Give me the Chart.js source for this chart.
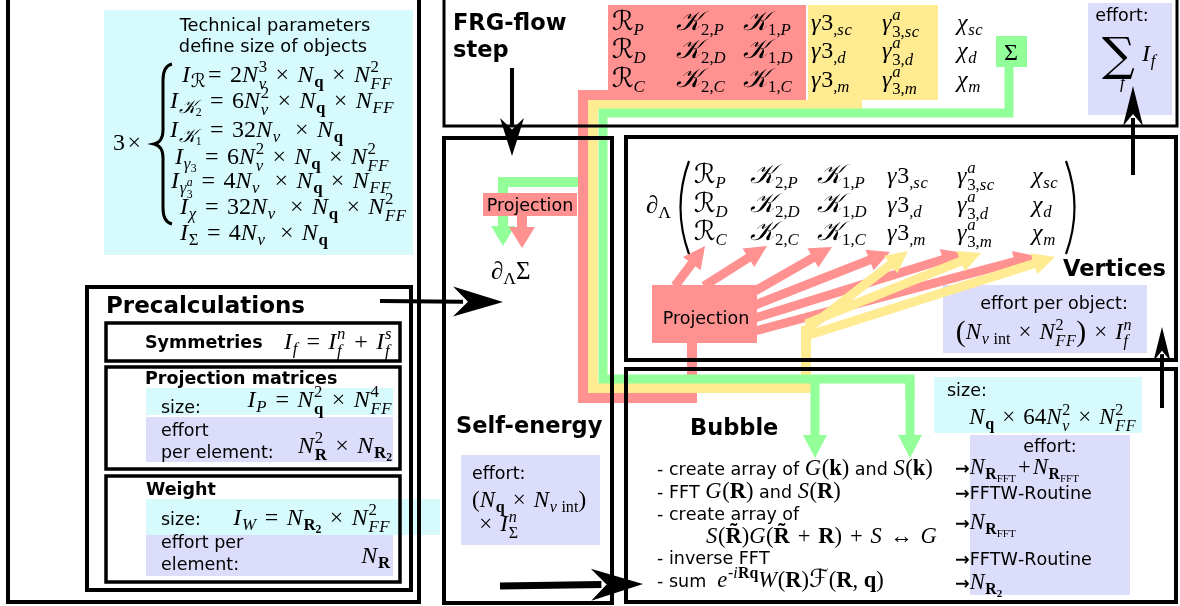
<!DOCTYPE html>
<html>
<head>
<meta charset="utf-8">
<script src="https://cdn.jsdelivr.net/npm/chart.js@4.4.1/dist/chart.umd.min.js"></script>
<style>
  html, body { margin: 0; padding: 0; background: #fff; }
  #wrap { width: 1180px; height: 606px; }
</style>
</head>
<body>
<div id="wrap"><canvas id="flow"></canvas></div>
<script>
// ---- content of the diagram ----
const vertexMatrix = [
  ['ℛ_{P}', '𝒦_{2,P}', '𝒦_{1,P}', 'γ3_{,sc}', 'γ^{a}_{3,sc}', 'χ_{sc}'],
  ['ℛ_{D}', '𝒦_{2,D}', '𝒦_{1,D}', 'γ3_{,d}', 'γ^{a}_{3,d}', 'χ_{d}'],
  ['ℛ_{C}', '𝒦_{2,C}', '𝒦_{1,C}', 'γ3_{,m}', 'γ^{a}_{3,m}', 'χ_{m}']
];
const techTitle = ['Technical parameters', 'define size of objects'];
const techParams = [
  'I_{ℛ}= 2N_{ν}^{3} × N_{\\b{q}} × N_{FF}^{2}',
  'I_{𝒦_{2}} = 6N_{ν}^{2} × N_{\\b{q}} × N_{FF}',
  'I_{𝒦_{1}} = 32N_{ν}  × N_{\\b{q}}',
  'I_{γ_{3}} = 6N_{ν}^{2} × N_{\\b{q}} × N_{FF}^{2}',
  'I_{γ_{3}^{a}} = 4N_{ν}  × N_{\\b{q}} × N_{FF}',
  'I_{χ} = 32N_{ν}  × N_{\\b{q}} × N_{FF}^{2}',
  'I_{Σ} = 4N_{ν}  × N_{\\b{q}}'
];
const precalcParts = ['Symmetries', 'Projection matrices', 'Weight'];
const precalcFormulas = [
  'I_{f} = I_{f}^{n} + I_{f}^{s}',
  'I_{P} = N_{\\b{q}}^{2} × N_{FF}^{4}',
  'N_{\\b{R}}^{2} × N_{\\b{R}_{\\b{2}}}',
  'I_{W} = N_{\\b{R}_{\\b{2}}} × N_{FF}^{2}',
  'N_{\\b{R}}'
];
const bubbleSteps = [
  '\\t{- create array of }G(\\b{k})\\t{ and }S(\\b{k})',
  '\\t{- FFT }G(\\b{R})\\t{ and }S(\\b{R})',
  '\\t{- create array of}',
  'S(\\b{R̃})G(\\b{R̃} + \\b{R}) + S ↔ G',
  '\\t{- inverse FFT}',
  '\\t{- sum  }e^{-i\\b{Rq}}W(\\b{R})ℱ(\\b{R}, \\b{q})'
];
const bubbleEfforts = [
  '\\tb{→}N_{\\b{R}_{\\r{FFT}}}+N_{\\b{R}_{\\r{FFT}}}',
  '\\tb{→}\\t{FFTW-Routine}',
  '\\tb{→}N_{\\b{R}_{\\r{FFT}}}',
  '\\tb{→}\\t{FFTW-Routine}',
  '\\tb{→}N_{\\b{R}_{\\b{2}}}'
];
const bubbleSize = 'N_{\\b{q}} × 64N_{ν}^{2} × N_{FF}^{2}';
const vertexEffort = '\\L{(}N_{ν \\r{int}} × N_{FF}^{2}\\L{)} × I_{f}^{n}';
const selfEnergyEffort = ['(N_{\\b{q}} × N_{ν \\r{int}})', '× I_{Σ}^{n}'];

const RED = '#ff9191', YELLOW = '#ffeb91', GREEN = '#93ff99';
const CYAN = '#d7fbfd', PURPLE = '#dcdcfb';

// ---- tiny math text renderer ----
const M = document.createElement('canvas').getContext('2d');
M.font = 'italic 20px "DejaVu Serif"';
const hasScriptK = Math.abs(M.measureText('𝒦').width - M.measureText('\u{10FFFD}').width) > 0.5;

function fontOf(kind, size) {
  switch (kind) {
    case 'it': return `italic ${size}px "Liberation Serif"`;
    case 'bf': return `bold ${size}px "Liberation Serif"`;
    case 'cal': return `italic ${size * 1.12}px "DejaVu Serif", "DejaVu Sans", "Liberation Serif"`;
    case 'sans': return `${size * 0.78}px "DejaVu Sans"`;
    case 'sansb': return `bold ${size * 0.78}px "DejaVu Sans"`;
    case 'big': return `${size * 1.3}px "Liberation Serif"`;
    default: return `${size}px "Liberation Serif"`;
  }
}
function autoFont(c) {
  if (/[ℛℱ𝒦]/u.test(c)) return 'cal';
  if (/[A-Za-zα-ω]/.test(c)) return 'it';
  return 'rm';
}
function parseMath(s) {
  const chars = Array.from(s);
  let i = 0;
  const mk = (c, font) => {
    let ch = c;
    while (i < chars.length && /[\u0300-\u036f]/.test(chars[i])) ch += chars[i++];
    if (ch === '𝒦' && !hasScriptK) ch = 'K';
    return { kind: 'ch', ch, font: font || autoFont(c) };
  };
  function arg(font) {
    if (chars[i] === '{') { i++; return group(font); }
    const c = chars[i++];
    return [mk(c, font)];
  }
  function group(font) {
    const out = [];
    while (i < chars.length) {
      const c = chars[i];
      if (c === '}') { i++; return out; }
      if (c === '{') { i++; out.push({ kind: 'grp', body: group(font) }); continue; }
      if (c === '_' || c === '^') { i++; out.push({ kind: c === '_' ? 'sub' : 'sup', body: arg(font) }); continue; }
      if (c === '\\') {
        i++;
        let name = '';
        while (i < chars.length && /[a-zA-Z]/.test(chars[i])) name += chars[i++];
        const f = { b: 'bf', r: 'rm', t: 'sans', tb: 'sansb', L: 'big' }[name];
        out.push({ kind: 'grp', body: arg(f) });
        continue;
      }
      i++;
      out.push(mk(c, font));
    }
    return out;
  }
  return group(null);
}
function renderMath(ctx, items, x, y, size) {
  let cx = x;
  for (let k = 0; k < items.length; k++) {
    const it = items[k];
    if (it.kind === 'ch') {
      const f = fontOf(it.font, size);
      M.font = f;
      const w = M.measureText(it.ch).width;
      const pad = it.font === 'rm' && size > 14 && '=+×↔'.includes(it.ch) ? size * 0.1 : 0;
      cx += pad;
      if (ctx) {
        ctx.font = f;
        ctx.fillText(it.ch, cx, it.font === 'big' ? y + size * 0.08 : y);
      }
      cx += w + pad + (it.font === 'it' ? size * 0.03 : 0);
    } else if (it.kind === 'grp') {
      cx += renderMath(ctx, it.body, cx, y, size);
    } else {
      let sub = null, sup = null;
      if (it.kind === 'sub') sub = it.body; else sup = it.body;
      const nx = items[k + 1];
      if (nx && (nx.kind === 'sub' || nx.kind === 'sup') && nx.kind !== it.kind) {
        if (nx.kind === 'sub') sub = nx.body; else sup = nx.body;
        k++;
      }
      const s2 = size * 0.7;
      let w = 0;
      if (sup) w = Math.max(w, renderMath(ctx, sup, cx, y - size * 0.4, s2));
      if (sub) w = Math.max(w, renderMath(ctx, sub, cx, y + size * (sup ? 0.3 : 0.2), s2));
      cx += w;
    }
  }
  return cx - x;
}
function drawMath(ctx, str, x, y, size, align) {
  const items = parseMath(str);
  const w = renderMath(null, items, 0, 0, size);
  const x0 = align === 'center' ? x - w / 2 : align === 'right' ? x - w : x;
  ctx.textAlign = 'left';
  ctx.textBaseline = 'alphabetic';
  ctx.fillStyle = '#000';
  renderMath(ctx, items, x0, y, size);
}

// ---- plugin that draws the flow chart on the chart's own scales ----
const flowPlugin = {
  id: 'flow',
  afterDatasetsDraw(chart) {
    const ctx = chart.ctx;
    const X = v => chart.scales.x.getPixelForValue(v);
    const Y = v => chart.scales.y.getPixelForValue(v);
    ctx.save();

    const fill = (x0, y0, x1, y1, c) => {
      ctx.fillStyle = c;
      ctx.fillRect(X(x0), Y(y0), X(x1) - X(x0), Y(y1) - Y(y0));
    };
    const frame = (x0, y0, x1, y1, lw) => {
      ctx.strokeStyle = '#000';
      ctx.lineWidth = lw;
      ctx.lineJoin = 'miter';
      ctx.strokeRect(X(x0), Y(y0), X(x1) - X(x0), Y(y1) - Y(y0));
    };
    const pipe = (pts, c, w) => {
      ctx.strokeStyle = c;
      ctx.lineWidth = w;
      ctx.lineJoin = 'miter';
      ctx.lineCap = 'butt';
      ctx.beginPath();
      pts.forEach((p, i) => i ? ctx.lineTo(X(p[0]), Y(p[1])) : ctx.moveTo(X(p[0]), Y(p[1])));
      ctx.stroke();
    };
    const head = (x0, y0, x1, y1, hl, hw, notch, c) => {
      const ax = X(x0), ay = Y(y0), bx = X(x1), by = Y(y1);
      const L = Math.hypot(bx - ax, by - ay);
      const ux = (bx - ax) / L, uy = (by - ay) / L, nx = -uy, ny = ux;
      const baseX = bx - ux * hl, baseY = by - uy * hl;
      ctx.fillStyle = c;
      ctx.beginPath();
      ctx.moveTo(bx, by);
      ctx.lineTo(baseX + nx * hw / 2, baseY + ny * hw / 2);
      ctx.lineTo(baseX + ux * notch, baseY + uy * notch);
      ctx.lineTo(baseX - nx * hw / 2, baseY - ny * hw / 2);
      ctx.closePath();
      ctx.fill();
    };
    const fatArrow = (pts, c, w, hl, hw) => {
      const a = pts[pts.length - 2], b = pts[pts.length - 1];
      const L = Math.hypot(b[0] - a[0], b[1] - a[1]);
      const cut = [b[0] - (b[0] - a[0]) / L * (hl - 1), b[1] - (b[1] - a[1]) / L * (hl - 1)];
      pipe(pts.slice(0, -1).concat([cut]), c, w);
      head(a[0], a[1], b[0], b[1], hl, hw, 0, c);
    };
    const blackArrow = (x0, y0, x1, y1, lw, hl, hw) => {
      const L = Math.hypot(x1 - x0, y1 - y0);
      const e = [x1 - (x1 - x0) / L * hl * 0.8, y1 - (y1 - y0) / L * hl * 0.8];
      pipe([[x0, y0], e], '#000', lw);
      head(x0, y0, x1, y1, hl, hw, hl * 0.3, '#000');
    };
    const txt = (s, x, y, size, bold, align) => {
      ctx.font = `${bold ? 'bold ' : ''}${size}px "DejaVu Sans"`;
      ctx.fillStyle = '#000';
      ctx.textAlign = align || 'left';
      ctx.textBaseline = 'alphabetic';
      ctx.fillText(s, X(x), Y(y));
    };
    const math = (s, x, y, size, align) => drawMath(ctx, s, X(x), Y(y), size, align);
    const paren = (x, y0, y1, dir) => {
      ctx.strokeStyle = '#000';
      ctx.lineWidth = 2.2;
      ctx.beginPath();
      ctx.moveTo(X(x), Y(y0));
      ctx.quadraticCurveTo(X(x - dir * 17), Y((y0 + y1) / 2), X(x), Y(y1));
      ctx.stroke();
    };

    // coloured backgrounds
    fill(104, 10, 413, 255, CYAN);
    fill(146, 388, 393, 415, CYAN);
    fill(146, 417, 393, 462, PURPLE);
    fill(146, 499, 440, 535, CYAN);
    fill(146, 535, 393, 576, PURPLE);
    fill(608, 5, 806, 100, RED);
    fill(808, 5, 938, 100, YELLOW);
    fill(996, 36, 1027, 67, GREEN);
    fill(1088, 3, 1172, 115, PURPLE);
    fill(461, 455, 600, 545, PURPLE);
    fill(943, 285, 1147, 353, PURPLE);
    fill(934, 377, 1142, 433, CYAN);
    fill(970, 435, 1130, 595, PURPLE);

    // self-energy branch of the sigma line
    fatArrow([[590, 182], [503, 182], [503, 246]], GREEN, 10, 20, 24);
    fill(483, 193, 577, 216, RED);
    fatArrow([[522, 214], [522, 248]], RED, 10, 21, 26);

    // red arrows from the projection into the vertex matrix
    const redTips = [[675, 286, 705, 246], [704, 286, 767, 246], [755, 291, 832, 247],
                     [755, 305, 890, 252], [755, 318, 964, 253], [755, 331, 1036, 256]];
    redTips.forEach(t => fatArrow([[t[0], t[1]], [t[2], t[3]]], RED, 9, 22, 22));
    pipe([[700, 95], [583, 95], [583, 398], [692, 398], [692, 340]], RED, 10);
    fill(652, 285, 757, 343, RED);

    pipe([[862, 105], [593, 105], [593, 388], [806, 388], [806, 326]], YELLOW, 10);
    const yellowTips = [[806, 330, 908, 251], [806, 324, 981, 253], [806, 336, 1055, 257]];
    yellowTips.forEach(t => fatArrow([[t[0], t[1]], [t[2], t[3]]], YELLOW, 9, 22, 22));

    pipe([[1009, 62], [1009, 113], [603, 113], [603, 379], [910, 379], [910, 400]], GREEN, 9);
    fatArrow([[910, 379], [910, 458]], GREEN, 9, 23, 24);
    fatArrow([[815, 379], [815, 458]], GREEN, 9, 23, 24);

    // frames
    frame(8, -2, 419, 602, 4);
    frame(87, 287, 411, 590, 4);
    frame(106, 323, 400, 361, 3.5);
    frame(106, 367, 400, 469, 3.5);
    frame(106, 476, 400, 582, 3.5);
    frame(444, -2, 1177, 126, 3);
    frame(444, 138, 612, 603, 4);
    frame(626, 137, 1176, 360, 4);
    frame(626, 369, 1176, 602, 4);

    // black arrows
    blackArrow(512, 68, 512, 156, 4, 38, 24);
    blackArrow(380, 301, 503, 302, 4, 50, 30);
    blackArrow(500, 586, 643, 584, 7, 52, 32);
    blackArrow(1162, 408, 1162, 327, 4, 34, 17);
    blackArrow(1133, 175, 1133, 86, 4, 40, 20);

    // technical parameters
    txt(techTitle[0], 275, 31, 17.8, false, 'center');
    txt(techTitle[1], 273, 52, 17.8, false, 'center');
    const tpX = [182, 170, 170, 175, 171, 180, 180];
    const tpY = [82, 108, 137, 164, 188, 214, 240];
    techParams.forEach((s, i) => math(s, tpX[i], tpY[i], 24));
    math('3×', 113, 150, 24);
    // curly brace
    ctx.strokeStyle = '#000';
    ctx.lineWidth = 3;
    ctx.beginPath();
    ctx.moveTo(X(172), Y(64));
    ctx.quadraticCurveTo(X(163), Y(66), X(163), Y(80));
    ctx.lineTo(X(163), Y(130));
    ctx.quadraticCurveTo(X(163), Y(142), X(154), Y(144));
    ctx.quadraticCurveTo(X(163), Y(146), X(163), Y(158));
    ctx.lineTo(X(163), Y(208));
    ctx.quadraticCurveTo(X(163), Y(222), X(172), Y(224));
    ctx.stroke();

    // precalculations
    txt('Precalculations', 106, 313, 23, true);
    txt(precalcParts[0], 145, 348, 17.5, true);
    math(precalcFormulas[0], 392, 349, 24, 'right');
    txt(precalcParts[1], 145, 384, 17.5, true);
    txt('size:', 161, 413, 17.5);
    math(precalcFormulas[1], 392, 407, 24, 'right');
    txt('effort', 161, 436, 17.5);
    txt('per element:', 161, 458, 17.5);
    math(precalcFormulas[2], 392, 453, 24, 'right');
    txt(precalcParts[2], 146, 495, 17.5, true);
    txt('size:', 161, 525, 17.5);
    math(precalcFormulas[3], 390, 525, 24, 'right');
    txt('effort per', 161, 548, 17.5);
    txt('element:', 161, 570, 17.5);
    math(precalcFormulas[4], 390, 563, 24, 'right');

    // FRG-flow step box
    txt('FRG-flow', 453, 30, 22.5, true);
    txt('step', 453, 57, 22.5, true);
    const topColX = [612, 676, 743, 811, 882, 957];
    const topRowY = [30, 58, 87];
    vertexMatrix.forEach((row, r) => row.forEach((s, c) => math(s, topColX[c], topRowY[r], 24)));
    math('Σ', 1011, 60, 24, 'center');
    txt('effort:', 1122, 21, 17.5, false, 'center');
    ctx.font = '46px "DejaVu Serif"';
    ctx.textAlign = 'left';
    ctx.fillText('∑', X(1102), Y(70));
    math('I_{f}', 1142, 61, 24);
    math('f', 1120, 88, 17);

    // self-energy box
    txt('Projection', 530, 211, 17.5, false, 'center');
    math('∂_{Λ}Σ', 491, 279, 25);
    txt('Self-energy', 456, 433, 22.5, true);
    txt('effort:', 472, 479, 17.5);
    math(selfEnergyEffort[0], 472, 507, 23);
    math(selfEnergyEffort[1], 477, 531, 23);

    // vertices box
    math('∂_{Λ}', 646, 213, 25);
    paren(689, 161, 254, 1);
    paren(1066, 161, 254, -1);
    const vColX = [694, 750, 817, 887, 957, 1032];
    const vRowY = [183, 212, 240];
    vertexMatrix.forEach((row, r) => row.forEach((s, c) => math(s, vColX[c], vRowY[r], 24)));
    txt('Vertices', 1166, 276, 22.5, true, 'right');
    txt('effort per object:', 1054, 309, 17.5, false, 'center');
    math(vertexEffort, 1044, 339, 23, 'center');
    txt('Projection', 706, 324, 17.5, false, 'center');

    // bubble box
    txt('Bubble', 690, 435, 22.5, true);
    const bsY = [475, 498, 520, 543, 564, 587];
    bubbleSteps.forEach((s, i) => math(s, i === 3 ? 706 : 657, bsY[i], 22.5));
    txt('size:', 947, 396, 17.5);
    math(bubbleSize, 1136, 424, 23, 'right');
    txt('effort:', 1050, 452, 17.5, false, 'center');
    const beY = [474, 499, 529, 565, 589];
    bubbleEfforts.forEach((s, i) => math(s, 955, beY[i], 22.5));

    ctx.restore();
  }
};

new Chart(document.getElementById('flow'), {
  type: 'scatter',
  data: { datasets: [{ data: [], pointRadius: 0 }] },
  options: {
    responsive: true,
    maintainAspectRatio: false,
    animation: false,
    layout: { padding: 0 },
    plugins: { legend: { display: false }, tooltip: { enabled: false } },
    scales: {
      x: { type: 'linear', min: 0, max: 1180, display: false },
      y: { type: 'linear', min: 0, max: 606, reverse: true, display: false }
    }
  },
  plugins: [flowPlugin]
});
</script>
</body>
</html>
